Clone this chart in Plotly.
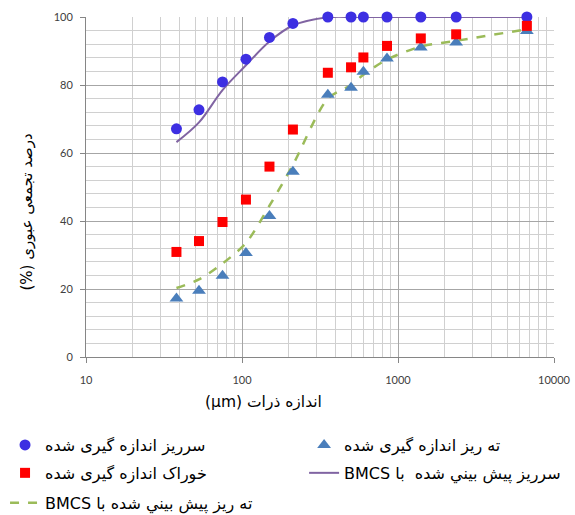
import plotly.graph_objects as go

# Particle sizes (µm) and cumulative passing (%)
sizes = [38, 53, 75, 106, 150, 212, 355, 500, 600, 850, 1400, 2360, 6700]
overflow_measured = [67.1, 72.7, 80.9, 87.6, 94.0, 98.1, 100, 100, 100, 100, 100, 100, 100]
feed_measured = [30.9, 34.1, 39.7, 46.3, 56.0, 66.9, 83.6, 85.2, 88.1, 91.5, 93.7, 94.9, 97.4]
underflow_measured = [17.2, 19.5, 23.9, 30.6, 41.5, 54.5, 77.1, 79.2, 83.9, 87.8, 91.0, 92.5, 95.9]
overflow_predicted = [63.2, 69.0, 78.5, 85.8, 92.8, 97.5, 99.9, 100, 100, 100, 100, 100, 100]
underflow_predicted = [20.3, 22.8, 27.5, 33.5, 44.5, 56.5, 76.0, 80.0, 83.0, 87.5, 91.3, 93.0, 96.4]

x_major_ticks = [10, 100, 1000, 10000]
x_minor_ticks = [m * d for d in (10, 100, 1000) for m in range(2, 10)]

RLE, PDF = "\u202B", "\u202C"
name_over_meas = "سرریز اندازه گیری شده"
name_under_meas = "ته ریز اندازه گیری شده"
name_feed_meas = "خوراک اندازه گیری شده"
name_over_pred = RLE + "سرریز پيش بيني شده  با BMCS" + PDF
name_under_pred = RLE + "ته ریز پيش بيني شده با BMCS" + PDF
x_title = RLE + "اندازه ذرات (µm)" + PDF
y_title = RLE + "درصد تجمعی عبوری (%)" + PDF

FONT = "Lato, DejaVu Sans, sans-serif"
PERSIAN_FONT = "DejaVu Sans, sans-serif"

fig = go.Figure()

# prediction curves first so the measured markers sit on top
fig.add_trace(go.Scatter(
    x=sizes, y=overflow_predicted, mode="lines", name=name_over_pred,
    line=dict(color="#8064A2", width=2, shape="spline", smoothing=1),
    cliponaxis=False, legend="legend4"))
fig.add_trace(go.Scatter(
    x=sizes, y=underflow_predicted, mode="lines", name=name_under_pred,
    line=dict(color="#9BBB59", width=2.5, dash="dash", shape="spline", smoothing=0.8),
    cliponaxis=False, legend="legend5"))
fig.add_trace(go.Scatter(
    x=sizes, y=overflow_measured, mode="markers", name=name_over_meas,
    marker=dict(symbol="circle", size=11, color="#3D2FE2"),
    cliponaxis=False, legend="legend"))
fig.add_trace(go.Scatter(
    x=sizes, y=underflow_measured, mode="markers", name=name_under_meas,
    marker=dict(symbol="triangle-up", size=12, color="#4A7EBB"),
    cliponaxis=False, legend="legend2"))
fig.add_trace(go.Scatter(
    x=sizes, y=feed_measured, mode="markers", name=name_feed_meas,
    marker=dict(symbol="square", size=10, color="#FF0000"),
    cliponaxis=False, legend="legend3"))

legend_common = dict(orientation="h", xanchor="left", yanchor="middle",
                     bgcolor="rgba(0,0,0,0)", borderwidth=0,
                     font=dict(family=PERSIAN_FONT, size=16, color="#000000"))
LEFT_X, RIGHT_X = -0.173, 0.466
ROW1, ROW2, ROW3 = -0.259, -0.341, -0.429

fig.update_layout(
    width=575, height=515,
    margin=dict(l=86, r=21, t=17, b=158, autoexpand=False),
    paper_bgcolor="white", plot_bgcolor="white",
    showlegend=True,
    legend=dict(legend_common, x=LEFT_X, y=ROW1),
    legend2=dict(legend_common, x=RIGHT_X, y=ROW1),
    legend3=dict(legend_common, x=LEFT_X, y=ROW2),
    legend4=dict(legend_common, x=RIGHT_X, y=ROW2),
    legend5=dict(legend_common, x=LEFT_X, y=ROW3),
    xaxis=dict(
        type="log", range=[1, 4],
        tickmode="array", tickvals=x_major_ticks,
        ticktext=[str(v) for v in x_major_ticks],
        showgrid=True, gridcolor="#A6A6A6", gridwidth=1,
        ticks="outside", ticklen=5, tickcolor="#868686",
        showline=True, linecolor="#868686", linewidth=1,
        tickfont=dict(family=FONT, size=11, color="#404040"),
        ticklabelstandoff=8,
        minor=dict(tickmode="array", tickvals=x_minor_ticks, showgrid=True,
                   gridcolor="#D0D0D0", gridwidth=1, ticks=""),
        zeroline=False,
    ),
    yaxis=dict(
        range=[0, 100], tickmode="linear", tick0=0, dtick=20,
        showgrid=True, gridcolor="#A6A6A6", gridwidth=1,
        ticks="outside", ticklen=5, tickcolor="#868686",
        showline=True, linecolor="#868686", linewidth=1,
        tickfont=dict(family=FONT, size=11, color="#404040"),
        ticklabelstandoff=5,
        minor=dict(dtick=4, showgrid=True, gridcolor="#D0D0D0", gridwidth=1, ticks=""),
        zeroline=False,
    ),
)

fig.add_annotation(text=x_title, xref="paper", yref="paper", x=0.380, y=-0.132,
                   xanchor="center", yanchor="middle", showarrow=False,
                   font=dict(family=PERSIAN_FONT, size=15.5, color="#000000"))
fig.add_annotation(text=y_title, xref="paper", yref="paper", x=-0.126, y=0.425,
                   xanchor="center", yanchor="middle", showarrow=False, textangle=-90,
                   font=dict(family=PERSIAN_FONT, size=15, color="#000000"))

fig.write_html("out.html")
